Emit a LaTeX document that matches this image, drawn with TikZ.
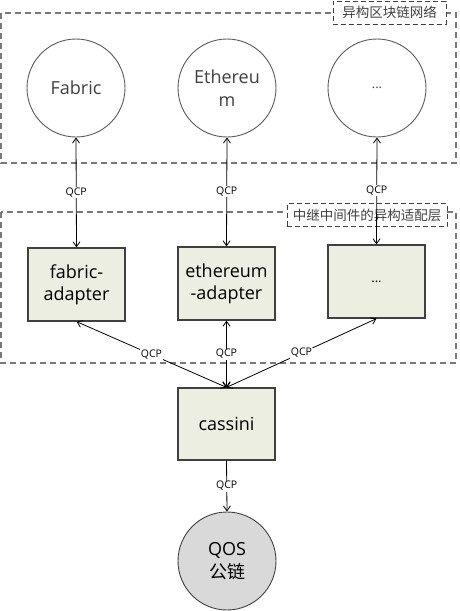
\documentclass[tikz,border=0pt]{standalone}
\usepackage{fontspec}
\setmainfont{Open Sans}
\newfontfamily\cjk{Noto Sans CJK SC}
\usetikzlibrary{arrows.meta}
\definecolor{boxfill}{RGB}{235,238,224}
\definecolor{boxline}{RGB}{64,64,64}
\definecolor{circline}{RGB}{90,90,90}
\definecolor{dashgrey}{RGB}{120,120,120}
\definecolor{qosfill}{RGB}{217,217,217}
\definecolor{txtgrey}{RGB}{64,64,64}
\tikzset{
  region/.style={draw=dashgrey, line width=1.5pt, dash pattern=on 6pt off 4pt},
  tag/.style={draw=boxline, fill=white, line width=1pt, dash pattern=on 5pt off 3pt,
    minimum height=23pt, inner sep=0pt, font=\cjk\fontsize{13.5}{15}\selectfont, text=txtgrey},
  circ/.style={circle, draw=circline, line width=0.9pt, fill=white, minimum size=98pt,
    inner sep=0pt, align=center, text=txtgrey, font=\fontsize{18}{23}\selectfont},
  box/.style={rectangle, draw=boxline, line width=1.2pt, fill=boxfill, minimum width=97pt,
    minimum height=73pt, inner sep=0pt, align=center, font=\fontsize{18}{22}\selectfont},
  qosc/.style={circ, fill=qosfill, draw=boxline},
  qcp/.style={fill=white, inner sep=0.8pt, font=\fontsize{10.5}{12}\selectfont},
  biarrow/.style={line width=0.8pt, {Straight Barb[length=5pt,width=7pt]}-{Straight Barb[length=5pt,width=7pt]}},
  onearrow/.style={line width=0.8pt, -{Straight Barb[length=5pt,width=7pt]}},
}
\begin{document}
\begin{tikzpicture}[x=1pt,y=-1pt]
\useasboundingbox (0,0) rectangle (459,611);
% regions
\draw[region] (1,13) rectangle (456,163);
\draw[region] (1,212) rectangle (456,363);
\node[tag, minimum width=113pt] (tag1) at (389.5,12.5) {异构区块链网络};
\node[tag, minimum width=160pt] (tag2) at (367,215) {中继中间件的异构适配层};
% networks
\node[circ] (fab) at (76,88) {Fabric};
\node[circ] (eth) at (227,88) {Ethereu\\m};
\node[circ, font=\fontsize{13}{15}\selectfont] (net3) at (377,88) {...};
% adapters
\node[box] (fa) at (76.5,284.5) {fabric-\\adapter};
\node[box] (ea) at (226.5,283.5) {ethereum\\-adapter};
\node[box, font=\fontsize{13}{15}\selectfont] (xa) at (376.5,281.5) {...};
% cassini and QOS
\node[box, minimum height=72pt] (cas) at (226.5,424) {cassini};
\node[qosc, text=black] (qos) at (227,561) {QOS\\{\cjk 公链}};
% connectors
\draw[biarrow] (fab.south) -- node[qcp]{QCP} (fa.north);
\draw[biarrow] (eth.south) -- node[qcp]{QCP} (ea.north);
\draw[biarrow] (net3.south) -- node[qcp, pos=0.5]{QCP} (xa.north);
\draw[biarrow] (fa.south) -- node[qcp]{QCP} (cas.north);
\draw[biarrow] (ea.south) -- node[qcp]{QCP} (cas.north);
\draw[biarrow] (xa.south) -- node[qcp]{QCP} (cas.north);
\draw[onearrow] (cas.south) -- node[qcp]{QCP} (qos.north);
\end{tikzpicture}
\end{document}
